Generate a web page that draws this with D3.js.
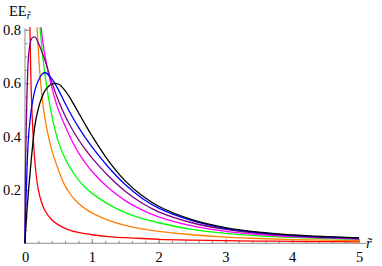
<!DOCTYPE html>
<html>
<head>
<meta charset="utf-8">
<script src="https://cdn.jsdelivr.net/npm/d3@7"></script>
<style>
  body { margin: 0; background: #fff; }
  svg text { font-family: "Liberation Serif", "Times New Roman", "DejaVu Serif", serif !important; }
</style>
</head>
<body>
<div class="vis"></div>
<script>
// r~ sample points shared by all curves
const xs = [0, 0.01, 0.05, 0.075, 0.1, 0.15, 0.2, 0.25, 0.3, 0.4, 0.5, 0.6, 0.7, 0.8, 0.9, 1, 1.25, 1.5, 1.75, 2, 2.5, 3, 3.5, 4, 4.5, 5];

// EE values (values above 0.8 are cut off by the plot range;
// the rise of the first four curves hides under the vertical axis)
const eeRed     = [null, 2.0, 1.3, 0.8, 0.52, 0.3, 0.2, 0.152, 0.122, 0.088, 0.069, 0.056, 0.047, 0.041, 0.036, 0.032, 0.025, 0.021, 0.018, 0.015, 0.012, 0.01, 0.0085, 0.0073, 0.0063, 0.0055];
const eeOrange  = [null, 2.5, 2.2, 1.8, 1.5, 1.0, 0.72, 0.56, 0.465, 0.35, 0.275, 0.215, 0.177, 0.15, 0.13, 0.114, 0.086, 0.067, 0.054, 0.045, 0.032, 0.023, 0.018, 0.014, 0.012, 0.01];
const eeGreen   = [null, 2.5, 2.3, 2.0, 1.7, 1.2, 0.9, 0.74, 0.63, 0.48, 0.38, 0.318, 0.273, 0.238, 0.21, 0.188, 0.146, 0.115, 0.093, 0.077, 0.052, 0.037, 0.028, 0.022, 0.018, 0.015];
const eeMagenta = [null, 2.5, 2.2, 1.9, 1.6, 1.15, 0.92, 0.79, 0.7, 0.585, 0.5, 0.44, 0.385, 0.34, 0.302, 0.27, 0.207, 0.16, 0.125, 0.099, 0.065, 0.045, 0.033, 0.025, 0.02, 0.016];
const eePurple  = [0, 0.32, 0.69, 0.745, 0.768, 0.773, 0.75, 0.72, 0.685, 0.605, 0.535, 0.478, 0.43, 0.389, 0.353, 0.321, 0.252, 0.195, 0.151, 0.118, 0.077, 0.052, 0.037, 0.028, 0.022, 0.018];
const eeBlue    = [0, 0.12, 0.39, 0.46, 0.51, 0.575, 0.61, 0.632, 0.64, 0.617, 0.575, 0.525, 0.478, 0.435, 0.397, 0.362, 0.285, 0.22, 0.169, 0.132, 0.085, 0.056, 0.04, 0.03, 0.024, 0.02];
const eeBlack   = [0, 0.05, 0.19, 0.26, 0.33, 0.445, 0.505, 0.545, 0.572, 0.597, 0.597, 0.572, 0.534, 0.49, 0.446, 0.404, 0.309, 0.234, 0.179, 0.139, 0.089, 0.059, 0.0415, 0.0315, 0.025, 0.02];

const xTicks = [0, 1, 2, 3, 4, 5];
const yTicks = [0.2, 0.4, 0.6, 0.8];

const series = [
  {color: "#ff0000", values: eeRed},
  {color: "#ff8000", values: eeOrange},
  {color: "#00ff00", values: eeGreen},
  {color: "#ff00ff", values: eeMagenta},
  {color: "#800080", values: eePurple},
  {color: "#0000ff", values: eeBlue},
  {color: "#000000", values: eeBlack}
];

const width = 382, height = 266;
const serif = "Liberation Serif, Times New Roman, DejaVu Serif, serif";
const svg = d3.select(".vis").append("svg")
  .attr("width", width)
  .attr("height", height)
  .attr("font-family", serif);

const x = d3.scaleLinear().domain([0, 5]).range([25, 359]);
const y = d3.scaleLinear().domain([0, 0.8]).range([243.3, 29.8]);
const axisColor = "#8c8c8c";

// clip curves to the plot range
svg.append("clipPath").attr("id", "plotclip")
  .append("rect")
  .attr("x", x(0) - 2).attr("y", y(0.81))
  .attr("width", x(5) - x(0) + 4).attr("height", y(0) - y(0.81) + 2);

// minor ticks
svg.append("g")
  .attr("transform", "translate(0," + y(0) + ")")
  .call(d3.axisBottom(x).tickValues(d3.range(0, 5.01, 0.2)).tickSize(-2.5).tickFormat(""))
  .call(g => g.select(".domain").remove())
  .call(g => g.selectAll("line").attr("stroke", axisColor));

svg.append("g")
  .attr("transform", "translate(" + x(0) + ",0)")
  .call(d3.axisLeft(y).tickValues(d3.range(0.05, 0.801, 0.05)).tickSize(-2.5).tickFormat(""))
  .call(g => g.select(".domain").remove())
  .call(g => g.selectAll("line").attr("stroke", axisColor));

// major ticks with labels
svg.append("g")
  .attr("transform", "translate(0," + y(0) + ")")
  .call(d3.axisBottom(x).tickValues(xTicks).tickSize(-4.5).tickPadding(8).tickFormat(d3.format("d")))
  .attr("font-family", serif).attr("font-size", 14.5)
  .call(g => g.select(".domain").remove())
  .call(g => g.selectAll("line").attr("stroke", axisColor))
  .call(g => g.selectAll("text").attr("fill", "#000"));

svg.append("g")
  .attr("transform", "translate(" + x(0) + ",0)")
  .call(d3.axisLeft(y).tickValues(yTicks).tickSize(-4.5).tickPadding(4).tickFormat(d3.format(".1f")))
  .attr("font-family", serif).attr("font-size", 14.5)
  .call(g => g.select(".domain").remove())
  .call(g => g.selectAll("line").attr("stroke", axisColor))
  .call(g => g.selectAll("text").attr("fill", "#000"));

// axis lines
svg.append("line")
  .attr("x1", x(0)).attr("x2", x(5.11))
  .attr("y1", y(0)).attr("y2", y(0))
  .attr("stroke", axisColor).attr("stroke-width", 1);
svg.append("line")
  .attr("x1", x(0)).attr("x2", x(0))
  .attr("y1", y(0)).attr("y2", y(0.805))
  .attr("stroke", axisColor).attr("stroke-width", 1);

// curves
const line = d3.line()
  .defined(d => d != null)
  .x((d, i) => x(xs[i]))
  .y(d => y(d))
  .curve(d3.curveCatmullRom.alpha(0.5));

svg.append("g")
  .attr("clip-path", "url(#plotclip)")
  .selectAll("path")
  .data(series)
  .enter()
  .append("path")
  .attr("d", d => line(d.values))
  .attr("fill", "none")
  .attr("stroke", d => d.color)
  .attr("stroke-width", 1.3);

// axis labels
const yl = svg.append("text")
  .attr("x", 9).attr("y", 16)
  .attr("font-size", 14.5)
  .text("EE");
yl.append("tspan")
  .attr("dy", 3)
  .attr("font-size", 10)
  .attr("font-style", "italic")
  .text("r\u0303");

svg.append("text")
  .attr("x", 366).attr("y", 248)
  .attr("font-size", 15)
  .attr("font-style", "italic")
  .text("r\u0303");
</script>
</body>
</html>
